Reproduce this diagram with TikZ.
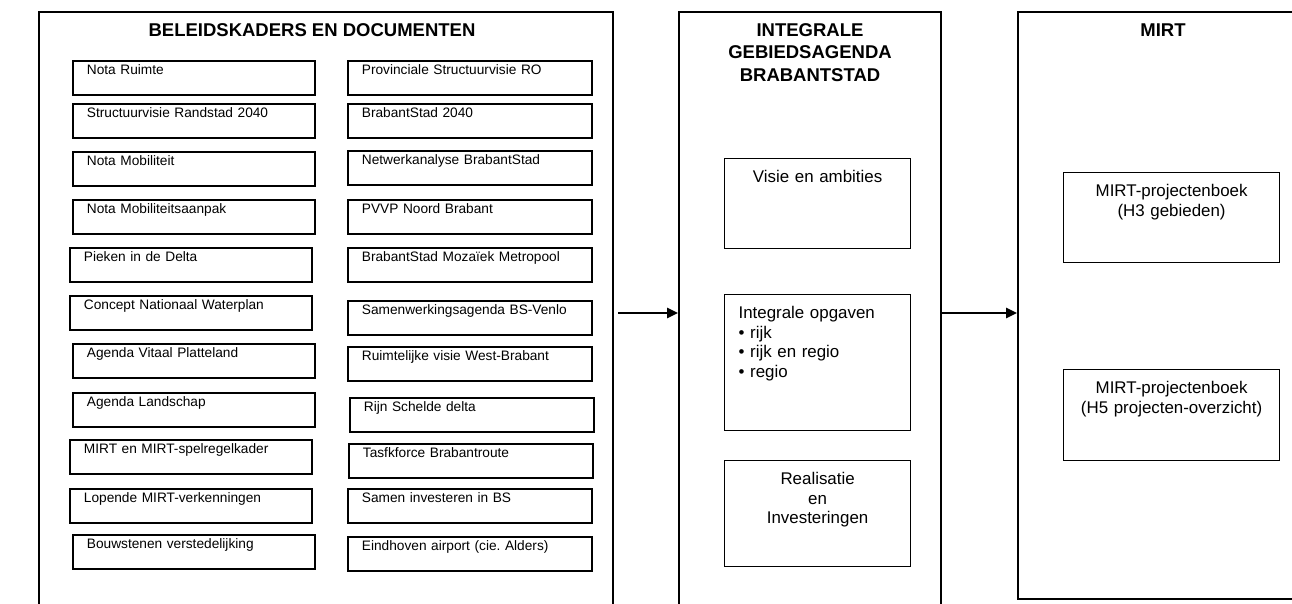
\documentclass[tikz,border=0pt]{standalone}
\usepackage{fontspec}
\setmainfont{Liberation Sans}
\usetikzlibrary{arrows.meta}
\frenchspacing

\tikzset{
	kader/.style={draw,line width=2pt,anchor=north west,inner sep=0pt},
	doc/.style={draw,line width=1.8pt,anchor=north west,inner xsep=14pt,inner ysep=0pt,text width=214pt,align=left,text height=14pt,text depth=20pt,font=\fontsize{13.7}{16}\selectfont},
	blok/.style={draw,line width=1.2pt,anchor=north west,inner xsep=14pt,inner ysep=0pt,text height=24pt,font=\fontsize{16.9}{19.6}\selectfont},
	kop/.style={anchor=base,align=center,font=\bfseries\fontsize{18.5}{22.5}\selectfont},
	pijl/.style={line width=2.5pt,-{Triangle[length=11pt,width=10pt]}}
}

\begin{document}
\begin{tikzpicture}[x=1pt,y=-1pt]
	\path[use as bounding box,clip] (0,0) rectangle (1292,603);
	% Kaders
	\node[kader,minimum width=574pt,minimum height=640pt] (beleid) at (38,11) {};
	\node[kader,minimum width=262pt,minimum height=640pt] (gebied) at (678,11) {};
	\node[kader,minimum width=300pt,minimum height=587pt] (mirt) at (1017,11) {};
	%Koppen (base = laatste regel)
	\node[kop] (beleidkop) at (312,36.5) {BELEIDSKADERS EN DOCUMENTEN};
	\node[kop] (gebiedkop) at (810,81) {INTEGRALE\\GEBIEDSAGENDA\\BRABANTSTAD};
	\node[kop] (mirtkop) at (1163,36) {MIRT};
	%Documenten
	\foreach \i/\x/\y/\tekst in {1/72/60/Nota Ruimte, 2/72/103/Structuurvisie Randstad 2040,
		3/72/151/Nota Mobiliteit, 4/72/199/Nota Mobiliteitsaanpak, 5/69/247/Pieken in de Delta,
		6/69/295/Concept Nationaal Waterplan, 7/72/343/Agenda Vitaal Platteland,
		8/72/392/Agenda Landschap, 9/69/439/MIRT en MIRT-spelregelkader,
		10/69/488/Lopende MIRT-verkenningen, 11/72/534/Bouwstenen verstedelijking}
		\node[doc] (links\i) at (\x,\y) {\tekst};
	\foreach \i/\x/\y/\tekst in {1/347/60/Provinciale Structuurvisie RO, 2/347/103/BrabantStad 2040,
		3/347/150/Netwerkanalyse BrabantStad, 4/347/199/PVVP Noord Brabant,
		5/347/247/BrabantStad Mozaïek Metropool, 6/347/300/Samenwerkingsagenda BS-Venlo,
		7/347/346/Ruimtelijke visie West-Brabant, 8/349/397/Rijn Schelde delta,
		9/348/443/Tasfkforce Brabantroute, 10/347/488/Samen investeren in BS,
		11/347/536/Eindhoven airport (cie. Alders)}
		\node[doc,text width=216pt] (rechts\i) at (\x,\y) {\tekst};
	%Gebiedsagenda
	\node[blok,text width=158pt,align=center,text depth=66pt] (visie) at (724,158) {Visie en ambities};
	\node[blok,text width=158pt,align=left,text depth=112pt] (opgaven) at (724,294) {Integrale opgaven\\• rijk\\• rijk en regio\\• regio};
	\node[blok,text width=158pt,align=center,text depth=82pt] (realisatie) at (724,460) {Realisatie\\en\\Investeringen};
	%MIRT
	\node[blok,text width=188pt,align=center,text depth=66pt] (boekhdrie) at (1063,172) {MIRT-projectenboek\\(H3 gebieden)};
	\node[blok,text width=188pt,align=center,text depth=67pt] (boekhvijf) at (1063,369) {MIRT-projectenboek\\(H5 projecten-overzicht)};
	%Pijlen
	\coordinate (hoogte) at (0,313);
	\draw[pijl] ([xshift=4pt]beleid.east |- hoogte) -- (gebied.west |- hoogte);
	\draw[pijl] (gebied.east |- hoogte) -- (mirt.west |- hoogte);
\end{tikzpicture}
\end{document}
